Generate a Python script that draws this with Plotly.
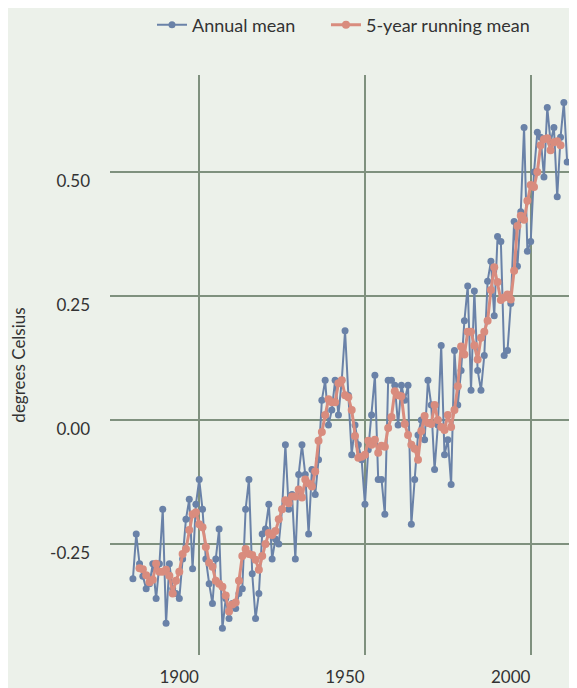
import plotly.graph_objects as go

years = list(range(1880, 2012))
annual_mean = [
    -0.32, -0.23, -0.29, -0.315, -0.34, -0.33, -0.29, -0.36, -0.29, -0.18,
    -0.41, -0.29, -0.34, -0.35, -0.36, -0.28, -0.20, -0.16, -0.30, -0.17,
    -0.12, -0.18, -0.28, -0.33, -0.37, -0.28, -0.22, -0.42, -0.36, -0.40,
    -0.37, -0.38, -0.35, -0.34, -0.18, -0.12, -0.31, -0.40, -0.35, -0.23,
    -0.22, -0.17, -0.28, -0.24, -0.25, -0.18, -0.05, -0.18, -0.15, -0.28,
    -0.11, -0.05, -0.11, -0.23, -0.10, -0.15, -0.08, 0.04, 0.08, -0.01,
    0.02, 0.08, 0.01, 0.08, 0.18, 0.05, -0.07, -0.01, -0.05, -0.08,
    -0.17, -0.06, 0.01, 0.09, -0.12, -0.12, -0.19, 0.08, 0.08, 0.07,
    -0.01, 0.07, 0.04, 0.07, -0.21, -0.12, -0.03, 0.00, -0.04, 0.08,
    0.03, -0.10, -0.01, 0.15, -0.07, -0.04, -0.13, 0.14, 0.03, 0.10,
    0.20, 0.27, 0.06, 0.26, 0.10, 0.06, 0.13, 0.28, 0.32, 0.21,
    0.37, 0.36, 0.13, 0.14, 0.235, 0.40, 0.31, 0.42, 0.59, 0.34,
    0.36, 0.50, 0.58, 0.57, 0.49, 0.63, 0.56, 0.59, 0.45, 0.57,
    0.64, 0.52,
]

running_years = list(range(1882, 2010))
running_mean = [
    -0.299, -0.301, -0.313, -0.327, -0.322, -0.290, -0.306, -0.306,
    -0.302, -0.314, -0.350, -0.324, -0.306, -0.270, -0.260, -0.222, -0.190, -0.186,
    -0.210, -0.216, -0.256, -0.288, -0.296, -0.324, -0.330, -0.336, -0.354, -0.386,
    -0.372, -0.368, -0.324, -0.274, -0.260, -0.270, -0.272, -0.282, -0.302, -0.274,
    -0.250, -0.228, -0.232, -0.224, -0.200, -0.180, -0.162, -0.168, -0.154, -0.154,
    -0.140, -0.156, -0.120, -0.128, -0.134, -0.104, -0.042, -0.024, 0.010, 0.042,
    0.036, 0.036, 0.074, 0.080, 0.050, 0.046, 0.020, -0.032, -0.076, -0.074,
    -0.070, -0.042, -0.050, -0.040, -0.066, -0.052, -0.054, -0.016, 0.006, 0.058,
    0.050, 0.048, -0.008, -0.030, -0.050, -0.058, -0.080, -0.022, 0.008, -0.006,
    -0.008, 0.030, 0.000, -0.014, -0.020, 0.010, -0.014, 0.020, 0.068, 0.148,
    0.132, 0.178, 0.178, 0.150, 0.122, 0.166, 0.178, 0.200, 0.262, 0.308,
    0.278, 0.242, 0.247, 0.253, 0.243, 0.301, 0.391, 0.412, 0.404, 0.442,
    0.474, 0.470, 0.500, 0.554, 0.566, 0.568, 0.544, 0.560, 0.562, 0.554,
]

x_ticks = [1900, 1950, 2000]
x_tick_labels = ["1900", "1950", "2000"]
y_ticks = [-0.25, 0.0, 0.25, 0.5]
y_tick_labels = ["-0.25", "0.00", "0.25", "0.50"]

BG = "#ECF1EA"
GRID = "#7f917e"
BLUE = "#6a82a8"
RED = "#d98c7e"
TEXT = "#333333"
FONT = "Lato, 'PT Sans', 'Noto Sans', sans-serif"

fig = go.Figure()
fig.add_trace(go.Scatter(
    x=years, y=annual_mean, name="Annual mean", mode="lines+markers",
    line=dict(color=BLUE, width=2), marker=dict(color=BLUE, size=7),
    legend="legend",
))
fig.add_trace(go.Scatter(
    x=running_years, y=running_mean, name="5-year running mean", mode="lines+markers",
    line=dict(color=RED, width=3), marker=dict(color=RED, size=8),
    legend="legend2",
))

legend_common = dict(
    orientation="h", xanchor="left", y=1.086, yanchor="middle",
    font=dict(size=18, color=TEXT), bgcolor="rgba(0,0,0,0)",
)

fig.update_layout(
    width=577, height=688,
    margin=dict(l=102, r=0, t=67, b=41, autoexpand=False),
    paper_bgcolor=BG, plot_bgcolor=BG,
    font=dict(family=FONT, color=TEXT, size=17),
    showlegend=True,
    legend=dict(x=0.0884, **legend_common),
    legend2=dict(x=0.4547, **legend_common),
    xaxis=dict(
        range=[1873.09, 2016.38], tickvals=x_ticks, ticktext=x_tick_labels,
        showgrid=True, gridcolor=GRID, gridwidth=2, zeroline=False, showline=False,
        ticks="", ticklabelshift=-20, ticklabelstandoff=10, automargin=False,
        tickfont=dict(size=17, color=TEXT),
    ),
    yaxis=dict(
        range=[-0.4738, 0.6956], tickvals=y_ticks, ticktext=y_tick_labels,
        showgrid=True, gridcolor=GRID, gridwidth=2, zeroline=False, showline=False,
        ticks="", ticklabelshift=9, ticklabelstandoff=19, automargin=False,
        tickfont=dict(size=17, color=TEXT),
        title=dict(text="degrees Celsius", font=dict(size=17, color=TEXT), standoff=22),
    ),
)

fig.write_html("out.html")
